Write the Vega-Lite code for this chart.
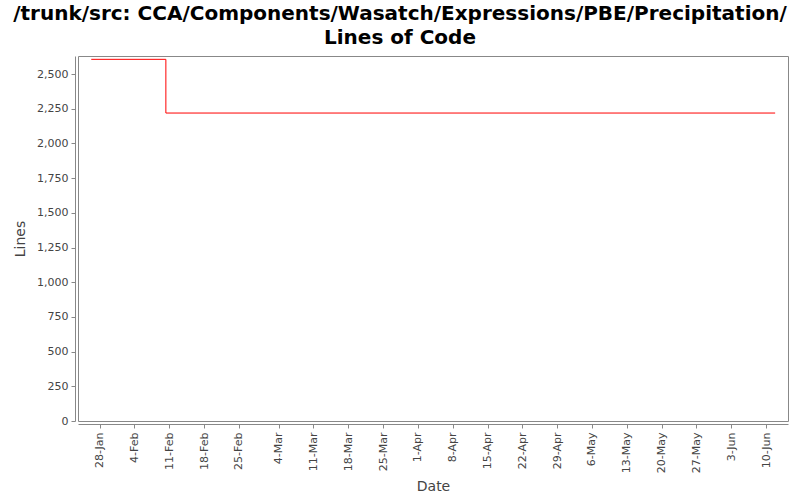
{
  "$schema": "https://vega.github.io/schema/vega-lite/v6.json",
  "width": 710,
  "height": 365,
  "autosize": {"type": "none"},
  "padding": {"left": 78, "top": 56, "right": 12, "bottom": 79},
  "background": "white",
  "title": {
    "text": ["/trunk/src: CCA/Components/Wasatch/Expressions/PBE/Precipitation/", "Lines of Code"],
    "font": "DejaVu Sans",
    "fontSize": 20,
    "fontWeight": "bold",
    "color": "#000000",
    "lineHeight": 24,
    "anchor": "middle",
    "dx": -33,
    "offset": 8
  },
  "data": {
    "values": [
      {"date": "2008/01/26 08:00", "lines": 2606},
      {"date": "2008/02/10 08:00", "lines": 2219},
      {"date": "2008/06/11 20:00", "lines": 2219}
    ]
  },
  "mark": {"type": "line", "interpolate": "step-after", "color": "#ff0000", "strokeWidth": 1},
  "encoding": {
    "x": {
      "field": "date",
      "type": "temporal",
      "title": "Date",
      "scale": {
        "domain": [
          {"year": 2008, "month": 1, "date": 23, "hours": 16},
          {"year": 2008, "month": 6, "date": 14, "hours": 10}
        ]
      },
      "axis": {
        "values": [
          {"year": 2008, "month": 1, "date": 28},
          {"year": 2008, "month": 2, "date": 4},
          {"year": 2008, "month": 2, "date": 11},
          {"year": 2008, "month": 2, "date": 18},
          {"year": 2008, "month": 2, "date": 25},
          {"year": 2008, "month": 3, "date": 4},
          {"year": 2008, "month": 3, "date": 11},
          {"year": 2008, "month": 3, "date": 18},
          {"year": 2008, "month": 3, "date": 25},
          {"year": 2008, "month": 4, "date": 1},
          {"year": 2008, "month": 4, "date": 8},
          {"year": 2008, "month": 4, "date": 15},
          {"year": 2008, "month": 4, "date": 22},
          {"year": 2008, "month": 4, "date": 29},
          {"year": 2008, "month": 5, "date": 6},
          {"year": 2008, "month": 5, "date": 13},
          {"year": 2008, "month": 5, "date": 20},
          {"year": 2008, "month": 5, "date": 27},
          {"year": 2008, "month": 6, "date": 3},
          {"year": 2008, "month": 6, "date": 10}
        ],
        "format": "%-d-%b",
        "labelAngle": -90,
        "labelAlign": "right",
        "labelBaseline": "middle",
        "labelFontSize": 11,
        "labelPadding": 4,
        "labelOverlap": false,
        "offset": 3,
        "titlePadding": 7,
        "grid": false
      }
    },
    "y": {
      "field": "lines",
      "type": "quantitative",
      "title": "Lines",
      "scale": {"domain": [0, 2630], "nice": false},
      "axis": {
        "values": [0, 250, 500, 750, 1000, 1250, 1500, 1750, 2000, 2250, 2500],
        "format": ",d",
        "labelFontSize": 11,
        "labelPadding": 3,
        "offset": 3,
        "titlePadding": 9,
        "grid": false
      }
    }
  },
  "config": {
    "view": {"stroke": "#888888", "strokeWidth": 1},
    "axis": {
      "labelFont": "DejaVu Sans",
      "titleFont": "DejaVu Sans",
      "labelColor": "#444444",
      "titleColor": "#444444",
      "titleFontSize": 14,
      "titleFontWeight": "normal",
      "domainColor": "#888888",
      "tickColor": "#888888",
      "tickSize": 4
    }
  }
}
